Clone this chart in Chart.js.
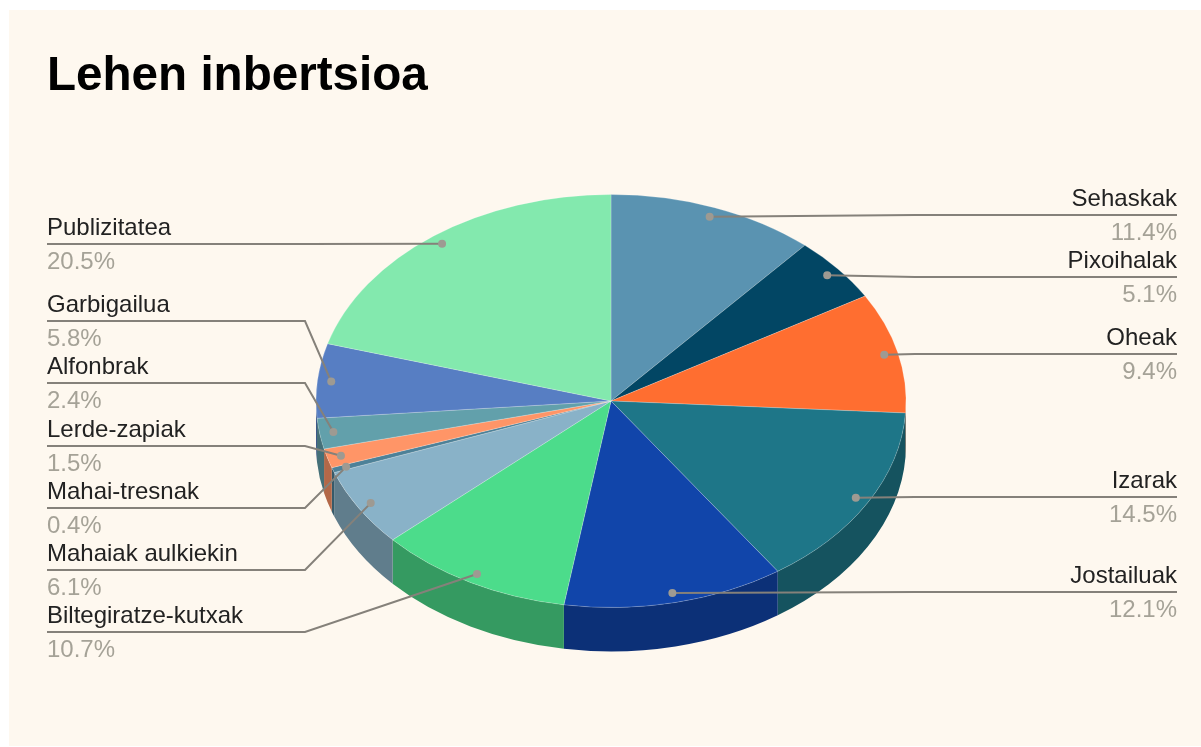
<!DOCTYPE html>
<html>
<head>
<meta charset="utf-8">
<title>Lehen inbertsioa</title>
<style>
  html, body { margin: 0; padding: 0; background: #ffffff; }
  canvas { display: block; }
</style>
</head>
<body>
<canvas id="chart" width="1201" height="747"></canvas>
<script src="https://cdn.jsdelivr.net/npm/chart.js@4"></script>
<script>
const titleText = "Lehen inbertsioa";
const categories = [
  "Sehaskak", "Pixoihalak", "Oheak", "Izarak", "Jostailuak", "Biltegiratze-kutxak",
  "Mahaiak aulkiekin", "Mahai-tresnak", "Lerde-zapiak", "Alfonbrak", "Garbigailua", "Publizitatea",
];
const shares = [11.4, 5.1, 9.4, 14.5, 12.1, 10.7, 6.1, 0.4, 1.5, 2.4, 5.8, 20.5];
const sliceColors = [
  "#5a93b1", "#024664", "#ff6e30", "#1e7688", "#1145aa", "#4cdc8b",
  "#89b2c8", "#4d8198", "#ff9567", "#62a0ab", "#577ec3", "#83e9ae",
];
// height of each label's leader line, same order as categories
const leaderRows = [215, 277, 354, 497, 592, 632, 570, 508, 446, 383, 321, 244];

const PIE_X = 611;
const PIE_Y = 401;
const PIE_RADIUS = 295;
const SQUASH = 0.7;
const DEPTH = 44;
const DOT_RING = 0.953;
const LEFT_TEXT = 47;
const RIGHT_TEXT = 1177;
const LEFT_ELBOW = 305;
const RIGHT_ELBOW = 915;
const FONT = '"Liberation Sans", Arial, sans-serif';

function darken(hex) {
  const n = parseInt(hex.slice(1), 16);
  const part = (v) => Math.round(v * 0.7);
  return `rgb(${part(n >> 16)}, ${part((n >> 8) & 255)}, ${part(n & 255)})`;
}

const tiltedPie = {
  id: "tiltedPie",
  beforeDraw(chart) {
    const { ctx, width, height } = chart;
    ctx.save();
    ctx.fillStyle = "#fef8ef";
    ctx.fillRect(9, 10, width - 9, height - 11);
    ctx.restore();
  },
  // side wall of the slices that face the viewer
  beforeDatasetsDraw(chart) {
    const { ctx } = chart;
    const ry = PIE_RADIUS * SQUASH;
    chart.getDatasetMeta(0).data.forEach((arc, i) => {
      const a = Math.max(arc.startAngle, 0);
      const b = Math.min(arc.endAngle, Math.PI);
      if (b <= a) return;
      ctx.save();
      ctx.beginPath();
      ctx.ellipse(PIE_X, PIE_Y, arc.outerRadius, ry, 0, a, b);
      ctx.ellipse(PIE_X, PIE_Y + DEPTH, arc.outerRadius, ry, 0, b, a, true);
      ctx.closePath();
      ctx.fillStyle = darken(sliceColors[i]);
      ctx.fill();
      ctx.restore();
    });
  },
  beforeDatasetDraw(chart, args) {
    const { ctx } = chart;
    const arc = args.meta.data[0];
    ctx.save();
    ctx.translate(PIE_X, PIE_Y);
    ctx.scale(1, SQUASH);
    ctx.translate(-arc.x, -arc.y);
  },
  afterDatasetDraw(chart) {
    chart.ctx.restore();
  },
  afterDatasetsDraw(chart) {
    const { ctx } = chart;
    chart.getDatasetMeta(0).data.forEach((arc, i) => {
      const mid = (arc.startAngle + arc.endAngle) / 2;
      const dotX = PIE_X + Math.cos(mid) * arc.outerRadius * DOT_RING;
      const dotY = PIE_Y + Math.sin(mid) * arc.outerRadius * DOT_RING * SQUASH;
      const onRight = Math.cos(mid) > 0;
      const rowY = leaderRows[i];
      const textX = onRight ? RIGHT_TEXT : LEFT_TEXT;
      const elbowX = onRight ? RIGHT_ELBOW : LEFT_ELBOW;

      ctx.save();
      ctx.strokeStyle = "#85817a";
      ctx.lineWidth = 2;
      ctx.beginPath();
      ctx.moveTo(textX, rowY);
      ctx.lineTo(elbowX, rowY);
      ctx.lineTo(dotX, dotY);
      ctx.stroke();

      ctx.fillStyle = "#9e9a92";
      ctx.beginPath();
      ctx.arc(dotX, dotY, 4, 0, Math.PI * 2);
      ctx.fill();

      ctx.textAlign = onRight ? "right" : "left";
      ctx.textBaseline = "alphabetic";
      ctx.font = `24px ${FONT}`;
      ctx.fillStyle = "#222222";
      ctx.fillText(categories[i], textX, rowY - 9);
      ctx.fillStyle = "#a5a297";
      ctx.fillText(shares[i].toFixed(1) + "%", textX, rowY + 25);
      ctx.restore();
    });
  },
};

new Chart(document.getElementById("chart"), {
  type: "pie",
  data: {
    labels: categories,
    datasets: [
      {
        data: shares,
        backgroundColor: sliceColors,
        borderColor: "rgba(255, 255, 255, 0.25)",
        borderWidth: 1,
        radius: PIE_RADIUS,
        clip: false,
      },
    ],
  },
  options: {
    responsive: false,
    animation: false,
    layout: { padding: { left: 47, right: 25, top: 18, bottom: 0 } },
    plugins: {
      legend: { display: false },
      tooltip: { enabled: false },
      title: {
        display: true,
        text: titleText,
        align: "start",
        color: "#000000",
        font: { family: FONT, size: 47.6, weight: "bold" },
        padding: { top: 30, bottom: 10 },
      },
    },
  },
  plugins: [tiltedPie],
});
</script>
</body>
</html>
